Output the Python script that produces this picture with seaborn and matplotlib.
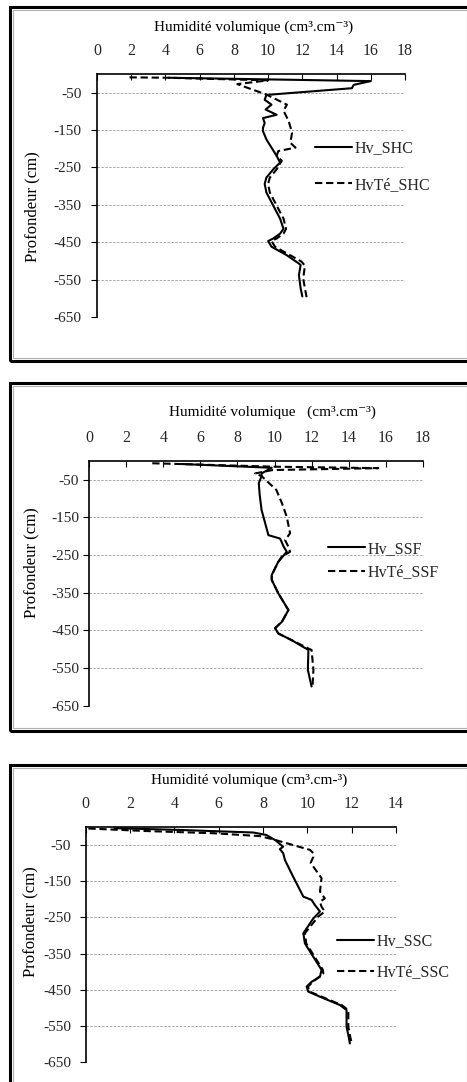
import pandas as pd
import seaborn as sns
import matplotlib.pyplot as plt
from matplotlib.patches import Rectangle

# Configurações iniciais
sns.set_theme(style="white")
plt.rcParams["font.family"] = ["Liberation Serif", "DejaVu Serif"]
plt.rcParams["axes.unicode_minus"] = False

# Profils SHC
prof_hv_shc = [-10, -19, -29, -38, -56, -69, -82, -95, -109, -118, -131, -144, -153, -175,
               -219, -237, -255, -277, -294, -317, -352, -387, -414, -427, -440, -447, -462,
               -485, -507, -511, -538, -573, -595]
hv_shc = [4.2, 16.0, 15.0, 14.9, 9.9, 9.8, 10.2, 9.85, 10.5, 9.7, 9.8, 9.7, 9.7, 9.9,
          10.5, 10.7, 10.3, 9.9, 9.8, 9.9, 10.3, 10.7, 10.9, 10.7, 10.3, 10.0, 10.2,
          11.1, 11.8, 11.9, 11.8, 11.9, 12.0]
prof_hvte_shc = [-9, -10, -17, -27, -37, -55, -73, -82, -98, -126, -157, -184, -197, -206,
                 -219, -232, -255, -277, -294, -317, -352, -387, -414, -427, -440, -447,
                 -462, -485, -502, -513, -547, -573, -597]
hvte_shc = [1.9, 4.1, 10.0, 8.2, 8.8, 9.9, 10.7, 11.1, 10.9, 11.2, 11.4, 11.3, 11.6, 10.6,
            10.5, 10.8, 10.5, 10.1, 10.0, 10.1, 10.5, 10.9, 11.05, 10.9, 10.5, 10.2,
            10.4, 11.3, 11.96, 12.15, 12.05, 12.15, 12.25]

# Profils SSF
prof_hv_ssf = [-8, -18, -33, -40, -59, -90, -130, -197, -206, -228, -241, -268, -303, -316,
               -351, -396, -427, -444, -458, -476, -502, -555, -599]
hv_ssf = [5.0, 9.85, 9.3, 9.3, 9.15, 9.2, 9.3, 9.67, 10.3, 10.5, 10.66, 10.2, 9.85, 9.85,
          10.2, 10.75, 10.4, 10.03, 10.2, 10.93, 11.83, 11.8, 12.0]
prof_hvte_ssf = [-6, -15, -19, -24, -33, -40, -77, -112, -148, -192, -210, -228, -241, -254,
                 -268, -303, -316, -351, -396, -427, -444, -458, -476, -502, -555, -599]
hvte_ssf = [3.4, 9.9, 15.6, 9.9, 8.95, 9.3, 10.1, 10.4, 10.66, 10.84, 10.57, 10.75, 10.84,
            10.39, 10.2, 9.85, 9.85, 10.2, 10.75, 10.4, 10.03, 10.2, 10.93, 12.0, 12.1, 12.05]

# Profils SSC
prof_hv_ssc = [-4, -9, -16, -23, -39, -48, -55, -62, -73, -92, -138, -193, -202, -216, -234,
               -253, -294, -322, -359, -395, -414, -428, -441, -455, -473, -492, -506, -552,
               -575, -598]
hv_ssc = [1.3, 4.25, 7.56, 8.16, 8.6, 8.76, 8.91, 8.76, 8.91, 8.99, 9.36, 9.82, 10.19, 10.34,
          10.57, 10.27, 9.82, 9.89, 10.27, 10.64, 10.57, 10.19, 9.97, 10.04, 10.72, 11.47,
          11.77, 11.77, 11.85, 11.92]
prof_hvte_ssc = [-5, -12, -18, -26, -35, -64, -73, -83, -100, -129, -142, -179, -198, -207,
                 -221, -234, -248, -294, -322, -359, -395, -405, -428, -441, -455, -473,
                 -492, -506, -552, -575, -598]
hvte_ssc = [0.12, 2.75, 5.76, 7.86, 8.46, 10.12, 10.27, 10.27, 10.15, 10.49, 10.64, 10.57,
            10.79, 10.57, 10.64, 10.79, 10.49, 9.89, 9.95, 10.33, 10.7, 10.72, 10.25, 10.03,
            10.1, 10.8, 11.55, 11.85, 11.85, 11.92, 12.0]

W, H = 467, 1082

# (séries, titre, xmax, axes px [x0, y0, x1, y1], cadre px, titre pos, ylabel pos, legende)
panneaux = [
    dict(hv=(prof_hv_shc, hv_shc, "Hv_SHC"), te=(prof_hvte_shc, hvte_shc, "HvTé_SHC"),
         titre="Humidité volumique (cm³.cm⁻³)", xmax=18,
         ax=(97, 74, 405, 317), cadre=(10, 7, 470, 361),
         tpos=(0.509, 1.193), ypos=(-0.211, 0.454), ypad=7,
         leg=(0.708, 0.619), lsp=1.3),
    dict(hv=(prof_hv_ssf, hv_ssf, "Hv_SSF"), te=(prof_hvte_ssf, hvte_ssf, "HvTé_SSF"),
         titre="Humidité volumique   (cm³.cm⁻³)", xmax=18,
         ax=(89.3, 461, 422.7, 705.7), cadre=(9.5, 383, 470, 731),
         tpos=(0.548, 1.201), ypos=(-0.173, 0.583), ypad=3.5,
         leg=(0.716, 0.593), lsp=0.45),
    dict(hv=(prof_hv_ssc, hv_ssc, "Hv_SSC"), te=(prof_hvte_ssc, hvte_ssc, "HvTé_SSC"),
         titre="Humidité volumique (cm³.cm-³)", xmax=14,
         ax=(85.7, 826.7, 396, 1062.3), cadre=(9.5, 765, 470, 1092),
         tpos=(0.528, 1.198), ypos=(-0.1795, 0.597), ypad=6.5,
         leg=(0.81, 0.447), lsp=0.95),
]

fig = plt.figure(figsize=(W / 100, H / 100), dpi=100)
fig.patch.set_facecolor("white")

for p in panneaux:
    # cadre du graphique
    cx0, cy0, cx1, cy1 = p["cadre"]
    fig.add_artist(Rectangle((cx0 / W, 1 - cy1 / H), (cx1 - cx0) / W, (cy1 - cy0) / H,
                             transform=fig.transFigure, fill=False, ec="black", lw=2.2))
    fig.add_artist(Rectangle(((cx0 + 3) / W, 1 - (cy1 - 3) / H), (cx1 - cx0 - 6) / W,
                             (cy1 - cy0 - 6) / H, transform=fig.transFigure, fill=False,
                             ec="#b0b0b0", lw=0.8))

    x0, y0, x1, y1 = p["ax"]
    ax = fig.add_axes([x0 / W, 1 - y1 / H, (x1 - x0) / W, (y1 - y0) / H])

    d1 = pd.DataFrame({"Profondeur": p["hv"][0], "Hv": p["hv"][1], "Serie": p["hv"][2]})
    d2 = pd.DataFrame({"Profondeur": p["te"][0], "Hv": p["te"][1], "Serie": p["te"][2]})
    df = pd.concat([d1, d2], ignore_index=True)

    sns.lineplot(data=df, x="Hv", y="Profondeur", style="Serie", sort=False, estimator=None,
                 dashes={p["hv"][2]: "", p["te"][2]: (3.5, 1.8)}, color="black",
                 linewidth=1.5, ax=ax)

    ax.set_xlim(0, p["xmax"])
    ax.set_ylim(-650, 0)
    ax.set_xticks(range(0, p["xmax"] + 1, 2))
    ax.set_yticks(range(-650, 0, 100))
    ax.xaxis.tick_top()
    ax.xaxis.set_label_position("top")
    ax.tick_params(axis="x", direction="in", length=4, width=0.8, color="black",
                   labelsize=11.5, pad=10.5, top=True, bottom=False)
    ax.tick_params(axis="y", direction="out", length=4, width=0.8, color="black",
                   labelsize=11, pad=p["ypad"], left=True)
    ax.grid(axis="y", color="#a8a8a8", linestyle=(0, (2.5, 1.5)), linewidth=0.7)
    ax.grid(axis="x", visible=False)
    for s in ["right", "bottom"]:
        ax.spines[s].set_visible(False)
    for s in ["left", "top"]:
        ax.spines[s].set_color("black")
        ax.spines[s].set_linewidth(1.2)

    ax.set_xlabel(p["titre"], fontsize=11, color="black")
    ax.xaxis.label.set_va("center")
    ax.xaxis.set_label_coords(*p["tpos"])
    ax.set_ylabel("Profondeur (cm)", fontsize=12, color="black")
    ax.yaxis.label.set_va("center")
    ax.yaxis.set_label_coords(*p["ypos"])

    handles, labels = ax.get_legend_handles_labels()
    ax.legend(handles, labels, loc="center left", bbox_to_anchor=p["leg"], frameon=False,
              fontsize=11.5, handlelength=2.3, handletextpad=0.15, borderpad=0,
              borderaxespad=0, labelspacing=p["lsp"])

plt.savefig("out.png", dpi=100, facecolor="white")
